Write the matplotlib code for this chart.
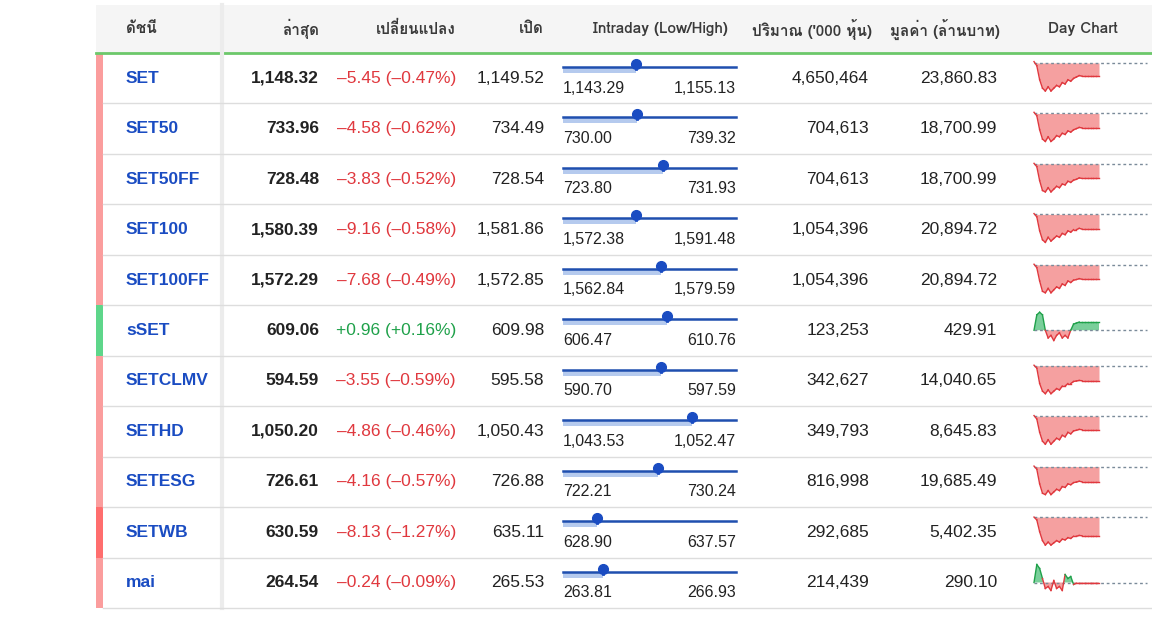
import matplotlib
matplotlib.use("Agg")
import matplotlib.pyplot as plt
from matplotlib import font_manager
from matplotlib.patches import Rectangle
from matplotlib.ft2font import FT2Font

# Data
names = ["SET", "SET50", "SET50FF", "SET100", "SET100FF", "sSET",
         "SETCLMV", "SETHD", "SETESG", "SETWB", "mai"]
last = [1148.32, 733.96, 728.48, 1580.39, 1572.29, 609.06,
        594.59, 1050.20, 726.61, 630.59, 264.54]
change = [-5.45, -4.58, -3.83, -9.16, -7.68, 0.96,
          -3.55, -4.86, -4.16, -8.13, -0.24]
change_pct = [-0.47, -0.62, -0.52, -0.58, -0.49, 0.16,
              -0.59, -0.46, -0.57, -1.27, -0.09]
open_ = [1149.52, 734.49, 728.54, 1581.86, 1572.85, 609.98,
         595.58, 1050.43, 726.88, 635.11, 265.53]
low = [1143.29, 730.00, 723.80, 1572.38, 1562.84, 606.47,
       590.70, 1043.53, 722.21, 628.90, 263.81]
high = [1155.13, 739.32, 731.93, 1591.48, 1579.59, 610.76,
        597.59, 1052.47, 730.24, 637.57, 266.93]
volume = [4650464, 704613, 704613, 1054396, 1054396, 123253,
          342627, 349793, 816998, 292685, 214439]
value = [23860.83, 18700.99, 18700.99, 20894.72, 20894.72, 429.91,
         14040.65, 8645.83, 19685.49, 5402.35, 290.10]
headers = ["ดัชนี", "ล่าสุด", "เปลี่ยนแปลง", "เปิด", "Intraday (Low/High)",
           "ปริมาณ ('000 หุ้น)", "มูลค่า (ล้านบาท)", "Day Chart"]

# intraday path, % from previous close (read roughly off the sparklines)
day_set = [0.05, -0.1, -0.6, -0.9, -1.0, -0.85, -1.0, -0.9, -0.8, -0.85, -0.7, -0.75,
           -0.6, -0.65, -0.55, -0.5, -0.45, -0.47, -0.47, -0.47, -0.47, -0.47, -0.47, -0.47]
day_set50 = [0.05, -0.1, -0.7, -1.1, -1.2, -1.0, -1.2, -1.1, -0.95, -1.0, -0.85, -0.9,
             -0.75, -0.8, -0.7, -0.65, -0.6, -0.62, -0.62, -0.62, -0.62, -0.62, -0.62, -0.62]
day_set50ff = [0.02, -0.1, -0.6, -0.95, -1.0, -0.85, -1.0, -0.9, -0.8, -0.85, -0.72, -0.75,
               -0.62, -0.66, -0.58, -0.55, -0.5, -0.52, -0.52, -0.52, -0.52, -0.52, -0.52, -0.52]
day_set100 = [0.03, -0.1, -0.65, -1.0, -1.1, -0.9, -1.05, -0.95, -0.85, -0.9, -0.75, -0.8,
              -0.65, -0.7, -0.6, -0.6, -0.55, -0.58, -0.58, -0.58, -0.58, -0.58, -0.58, -0.58]
day_set100ff = [0.02, -0.1, -0.55, -0.9, -0.95, -0.8, -0.95, -0.85, -0.75, -0.8, -0.65, -0.7,
                -0.55, -0.6, -0.52, -0.5, -0.47, -0.49, -0.49, -0.49, -0.49, -0.49, -0.49, -0.49]
day_sset = [0.0, 0.3, 0.35, 0.3, 0.0, -0.15, -0.1, -0.2, -0.1, -0.05, -0.15, -0.1,
            -0.15, 0.0, 0.12, 0.14, 0.16, 0.16, 0.16, 0.16, 0.16, 0.16, 0.16, 0.16]
day_setclmv = [0.02, -0.1, -0.7, -1.0, -1.1, -0.95, -1.1, -1.0, -0.9, -0.95, -0.8, -0.8,
               -0.7, -0.7, -0.62, -0.6, -0.58, -0.59, -0.59, -0.59, -0.59, -0.59, -0.59, -0.59]
day_sethd = [0.02, -0.1, -0.55, -0.85, -0.95, -0.8, -0.95, -0.85, -0.75, -0.8, -0.65, -0.7,
             -0.55, -0.6, -0.5, -0.48, -0.45, -0.46, -0.46, -0.46, -0.46, -0.46, -0.46, -0.46]
day_setesg = [0.02, -0.1, -0.65, -1.0, -1.05, -0.9, -1.05, -0.95, -0.85, -0.9, -0.75, -0.78,
              -0.65, -0.68, -0.6, -0.58, -0.55, -0.57, -0.57, -0.57, -0.57, -0.57, -0.57, -0.57]
day_setwb = [0.0, -0.2, -1.0, -1.6, -1.9, -1.7, -1.9, -1.75, -1.6, -1.7, -1.5, -1.55,
             -1.4, -1.45, -1.3, -1.3, -1.25, -1.27, -1.27, -1.27, -1.27, -1.27, -1.27, -1.27]
day_mai = [0.0, 0.45, 0.35, 0.1, -0.15, -0.1, -0.2, 0.05, -0.15, -0.1, -0.2, 0.2,
           0.1, 0.15, -0.05, -0.02, -0.02, -0.02, -0.02, -0.02, -0.02, -0.02, -0.02, -0.02]
day_paths = [day_set, day_set50, day_set50ff, day_set100, day_set100ff, day_sset,
             day_setclmv, day_sethd, day_setesg, day_setwb, day_mai]


def thai_font():
    for f in font_manager.fontManager.ttflist:
        try:
            if 0x0E14 in FT2Font(f.fname).get_charmap():
                return f.name
        except Exception:
            pass
    return "DejaVu Sans"


THAI = thai_font()
plt.rcParams["font.family"] = ["Liberation Sans", THAI, "DejaVu Sans"]

RED, GREEN, BLUE = "#e0383e", "#1fa14a", "#1a4cc2"
TOP, ROW_H = 53, 50.45

fig = plt.figure(figsize=(11.52, 6.44), dpi=100)
ax = fig.add_axes([0, 0, 1, 1])
ax.set_xlim(0, 1152)
ax.set_ylim(644, 0)
ax.axis("off")

# header
ax.add_patch(Rectangle((96, 5), 1056, TOP - 5, color="#f5f5f5", lw=0))
ax.plot([96, 1152], [TOP, TOP], color="#6cc86a", lw=2)
hx = [(126, "left"), (319, "right"), (456, "right"), (544, "right"),
      (660, "center"), (812, "center"), (945, "center"), (1083, "center")]
for (x, ha), h in zip(hx, headers):
    ax.text(x, 29, h, ha=ha, va="center", fontsize=11, color="#3a3a3a",
            fontweight="semibold", family=[THAI, "DejaVu Sans"])

# name column shadow
ax.plot([222, 222], [5, TOP + ROW_H * 11], color="#ececec", lw=3)

for i, n in enumerate(names):
    y0 = TOP + ROW_H * i
    yc = y0 + ROW_H / 2
    up = change[i] >= 0
    strip = "#5ed68a" if up else ("#ff6e6e" if change_pct[i] < -1 else "#fb9d9d")
    ax.add_patch(Rectangle((96, y0), 7, ROW_H, color=strip, lw=0))
    ax.plot([103, 1152], [y0 + ROW_H, y0 + ROW_H], color="#dddddd", lw=1)

    ax.text(126, yc, n, ha="left", va="center", fontsize=12.5, fontweight="bold", color=BLUE)
    ax.text(319, yc, f"{last[i]:,.2f}", ha="right", va="center", fontsize=12.5,
            fontweight="bold", color="#222222")
    sign = "+" if up else "\u2013"
    ax.text(456, yc, f"{sign}{abs(change[i]):.2f} ({sign}{abs(change_pct[i]):.2f}%)",
            ha="right", va="center", fontsize=12.5, color=GREEN if up else RED)
    ax.text(544, yc, f"{open_[i]:,.2f}", ha="right", va="center", fontsize=12.5, color="#222222")

    # intraday range bar
    x0, x1 = 563, 736
    frac = (last[i] - low[i]) / (high[i] - low[i])
    xm = x0 + frac * (x1 - x0)
    ly = y0 + 14
    ax.add_patch(Rectangle((x0, ly), xm - x0, 6, color="#b5caee", lw=0))
    ax.plot([x0, x1], [ly, ly], color="#1f4faf", lw=1.8)
    ax.plot([xm], [ly - 3], marker="o", ms=7, color="#1a4cc2")
    ax.plot([xm, xm], [ly - 3, ly + 2], color="#1a4cc2", lw=2)
    ax.text(x0, y0 + 35, f"{low[i]:,.2f}", ha="left", va="center", fontsize=11.5, color="#222222")
    ax.text(x1, y0 + 35, f"{high[i]:,.2f}", ha="right", va="center", fontsize=11.5, color="#222222")

    ax.text(869, yc, f"{volume[i]:,}", ha="right", va="center", fontsize=12.5, color="#222222")
    ax.text(997, yc, f"{value[i]:,.2f}", ha="right", va="center", fontsize=12.5, color="#222222")

    # day chart
    path = day_paths[i]
    if max(path) > 0.2:
        base = y0 + 25
        scale = 18 / max(abs(v) for v in path)
    else:
        base = y0 + 10
        scale = 28 / max(abs(v) for v in path)
    sx0, sx1 = 1034, 1099
    xs = [sx0 + k * (sx1 - sx0) / (len(path) - 1) for k in range(len(path))]
    ys = [base - v * scale for v in path]
    ax.plot([sx0, 1147], [base, base], color="#7a8a99", lw=1, ls=(0, (2, 2)))
    ax.fill_between(xs, base, ys, where=[v <= 0 for v in path], interpolate=True,
                    color="#f28080", alpha=0.75, lw=0)
    ax.fill_between(xs, base, ys, where=[v >= 0 for v in path], interpolate=True,
                    color="#4cc078", alpha=0.75, lw=0)
    for k in range(len(path) - 1):
        c = GREEN if path[k] + path[k + 1] > 0 else RED
        ax.plot(xs[k:k + 2], ys[k:k + 2], color=c, lw=1)

fig.savefig("out.png", dpi=100, facecolor="white")
